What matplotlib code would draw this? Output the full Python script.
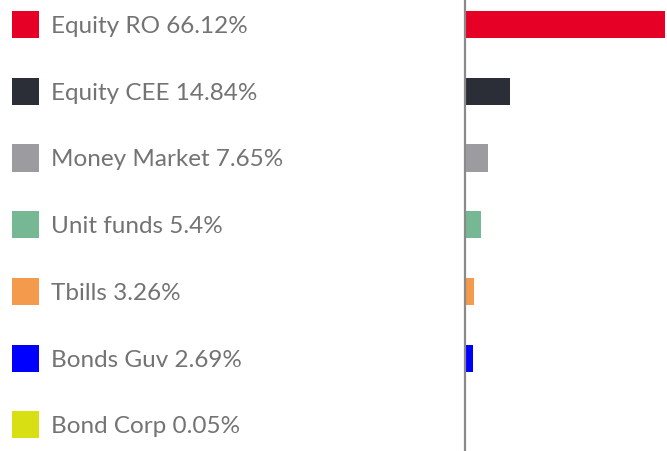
import matplotlib
matplotlib.use("Agg")
import matplotlib.pyplot as plt

categories = ["Equity RO", "Equity CEE", "Money Market", "Unit funds", "Tbills", "Bonds Guv", "Bond Corp"]
values = [66.12, 14.84, 7.65, 5.4, 3.26, 2.69, 0.05]
labels = ["66.12%", "14.84%", "7.65%", "5.4%", "3.26%", "2.69%", "0.05%"]
colors = ["#E60026", "#2B2E37", "#9C9B9F", "#77B894", "#F49A4C", "#0000FF", "#D8E014"]

W, H = 667, 451
fig = plt.figure(figsize=(W / 100, H / 100), dpi=100)

axis_x = 464.5
ylim = (6.39, -0.367)
ypos = list(range(len(categories)))

# bar axes
ax = fig.add_axes([axis_x / W, 0, 1 - axis_x / W, 1])
ax.barh(ypos, values, height=0.405, color=colors, left=0)
ax.set_xlim(0, 66.12 * (W - axis_x) / (665 - axis_x))
ax.set_ylim(*ylim)
for s in ["top", "right", "bottom"]:
    ax.spines[s].set_visible(False)
ax.spines["left"].set_color("#8a8a8a")
ax.spines["left"].set_linewidth(1.6)
ax.set_xticks([])
ax.set_yticks([i + 0.5 for i in ypos[:-1]])
ax.tick_params(axis="y", length=0, labelleft=False)
ax.patch.set_alpha(0)

# legend axes
lx = fig.add_axes([0, 0, axis_x / W, 1])
lx.set_xlim(0, axis_x)
lx.set_ylim(*ylim)
lx.axis("off")
lx.barh(ypos, [27] * len(ypos), left=12, height=0.405, color=colors)
for i, (c, l) in enumerate(zip(categories, labels)):
    lx.text(51, i + 0.03, f"{c} {l}", va="center", ha="left", fontsize=17.5,
            color="#737373", family=["Lato", "DejaVu Sans"])

fig.savefig("out.png", dpi=100)
